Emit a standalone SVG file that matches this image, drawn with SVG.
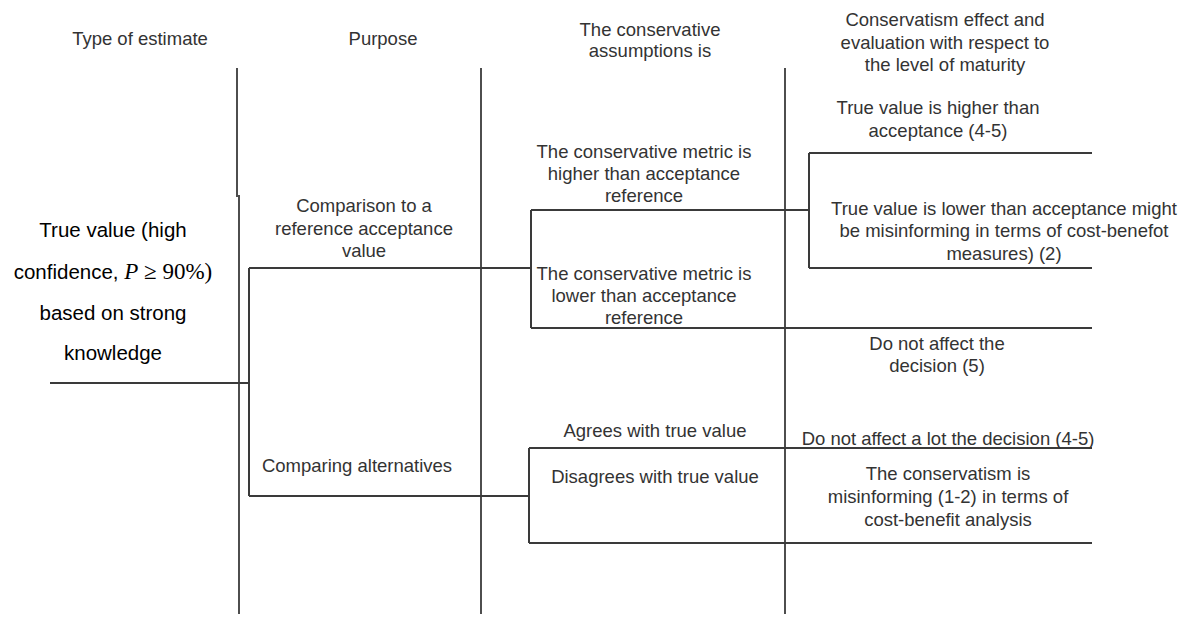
<svg xmlns="http://www.w3.org/2000/svg" width="1193" height="617" viewBox="0 0 1193 617">
<style>
.t{font-family:"Liberation Sans",Arial,sans-serif;font-size:18.5px;fill:#333;text-anchor:middle}
.b{font-family:"Liberation Sans",Arial,sans-serif;font-size:20.5px;fill:#000;text-anchor:middle}
.m{font-family:"Liberation Serif","Times New Roman",serif;font-size:23px}
.col{stroke:#222;stroke-width:1.6;fill:none}
.ln{stroke:#3a3a3a;stroke-width:2;fill:none}
</style>
<rect width="1193" height="617" fill="#fff"/>
<g id="headers">
<text class="t" x="140" y="45">Type of estimate</text>
<text class="t" x="383" y="45">Purpose</text>
<text class="t" x="650" y="36">The conservative</text>
<text class="t" x="650" y="57">assumptions is</text>
<text class="t" x="945" y="26">Conservatism effect and</text>
<text class="t" x="945" y="49">evaluation with respect to</text>
<text class="t" x="945" y="71">the level of maturity</text>
</g>
<g id="connectors">
<path class="col" d="M237 68V197M239 195V614M481 68V614M785 68V614"/>
<path class="ln" d="M50 383H249M249 268V496M249 268H531M249 496H529"/>
<path class="ln" d="M531 210V328M531 210H809M531 328H1092"/>
<path class="ln" d="M809 153V268M809 153H1092M809 268H1092"/>
<path class="ln" d="M529 448V543M529 448H1092M529 543H1092"/>
</g>
<g id="n-true-value">
<text class="b" x="113" y="237">True value (high</text>
<text class="b" x="113" y="279">confidence, <tspan class="m" font-style="italic">P</tspan><tspan class="m"> ≥ 90%)</tspan></text>
<text class="b" x="113" y="320">based on strong</text>
<text class="b" x="113" y="360">knowledge</text>
</g>
<g id="n-comparison">
<text class="t" x="364" y="212">Comparison to a</text>
<text class="t" x="364" y="235">reference acceptance</text>
<text class="t" x="364" y="257">value</text>
</g>
<g id="n-comparing">
<text class="t" x="357" y="472">Comparing alternatives</text>
</g>
<g id="n-higher">
<text class="t" x="644" y="158">The conservative metric is</text>
<text class="t" x="644" y="180">higher than acceptance</text>
<text class="t" x="644" y="202">reference</text>
</g>
<g id="n-lower">
<text class="t" x="644" y="280">The conservative metric is</text>
<text class="t" x="644" y="302">lower than acceptance</text>
<text class="t" x="644" y="324">reference</text>
</g>
<g id="n-agrees">
<text class="t" x="655" y="437">Agrees with true value</text>
</g>
<g id="n-disagrees">
<text class="t" x="655" y="483">Disagrees with true value</text>
</g>
<g id="n-true-higher">
<text class="t" x="938" y="114">True value is higher than</text>
<text class="t" x="938" y="137">acceptance (4-5)</text>
</g>
<g id="n-true-lower">
<text class="t" x="1004" y="215">True value is lower than acceptance might</text>
<text class="t" x="1004" y="237">be misinforming in terms of cost-benefot</text>
<text class="t" x="1004" y="260">measures) (2)</text>
</g>
<g id="n-not-affect">
<text class="t" x="937" y="350">Do not affect the</text>
<text class="t" x="937" y="372">decision (5)</text>
</g>
<g id="n-not-affect-lot">
<text class="t" x="948" y="445">Do not affect a lot the decision (4-5)</text>
</g>
<g id="n-misinforming">
<text class="t" x="948" y="480">The conservatism is</text>
<text class="t" x="948" y="503">misinforming (1-2) in terms of</text>
<text class="t" x="948" y="526">cost-benefit analysis</text>
</g>
</svg>
